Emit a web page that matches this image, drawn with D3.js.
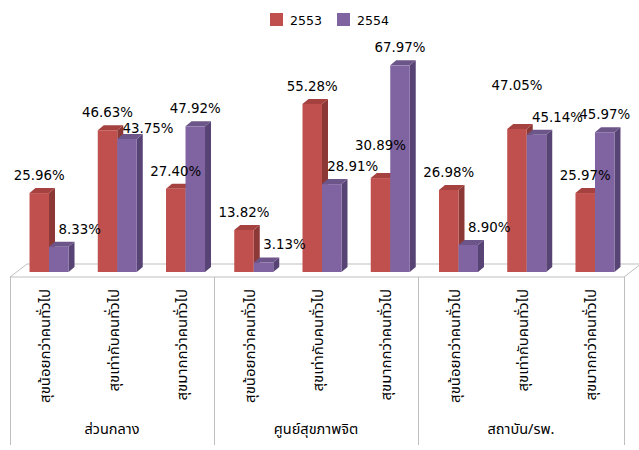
<!DOCTYPE html>
<html>
<head>
<meta charset="utf-8">
<script src="https://cdn.jsdelivr.net/npm/d3@7"></script>
<style>
  html, body { margin: 0; padding: 0; background: #fff; }
  svg { display: block; }
  text { font-family: "DejaVu Sans", Verdana, sans-serif; fill: #000; }
  .thai { font-family: Tahoma, "Noto Sans Thai", "Leelawadee UI", sans-serif; }
</style>
</head>
<body>
<svg id="chart" width="639" height="450"></svg>
<script>
// Survey results (%) by unit type and happiness level, 2553 vs 2554
const groups = ["ส่วนกลาง", "ศูนย์สุขภาพจิต", "สถาบัน/รพ."];
const levels = ["สุขน้อยกว่าคนทั่วไป", "สุขเท่ากับคนทั่วไป", "สุขมากกว่าคนทั่วไป"];
const seriesNames = ["2553", "2554"];
const values2553 = [25.96, 46.63, 27.40, 13.82, 55.28, 30.89, 26.98, 47.05, 25.97];
const values2554 = [8.33, 43.75, 47.92, 3.13, 28.91, 67.97, 8.90, 45.14, 45.97];

const W = 639, H = 450;
const svg = d3.select("#chart");

// pick a font size so that a sample string renders at the wanted width
function fitSize(sample, cls, wanted) {
  const t = svg.append("text").attr("font-size", 20).text(sample);
  if (cls) t.attr("class", cls);
  const w = t.node().getComputedTextLength();
  t.remove();
  return w > 0 ? 20 * wanted / w : 14;
}
const valueSize = fitSize("25.96%", null, 51);
const legendSize = fitSize("2553", null, 32);
const levelSize = fitSize(levels[0], "thai", 114);
const groupSize = fitSize(groups[0], "thai", 55);

// colours: front, side, top faces
const palette = {
  "2553": { front: "#C0504D", side: "#8C3836", top: "#A5423F" },
  "2554": { front: "#8064A2", side: "#574474", top: "#6C5589" }
};

const base = 272;          // front baseline of the columns
const depthX = 6, depthY = 5;

// one key per (group, level) slot
const slots = [];
groups.forEach((g, gi) => levels.forEach((l, li) => slots.push({ key: gi + "|" + li, group: g, level: l, gi, li })));

const x0 = d3.scaleBand().domain(slots.map(d => d.key)).range([14.9, 629.1]).paddingInner(0).paddingOuter(0);
const x1 = d3.scaleBand().domain(seriesNames).range([0, x0.bandwidth()]).paddingInner(0).paddingOuter(0.75);
const y = d3.scaleLinear().domain([0, 70]).range([base, base - 70 * 3.04]);

// ---- floor and category box ----
const floorFront = 277, floorBack = 264;
const floorL = 10, floorR = 624, floorShift = 17;
const grid = "#BFBFBF";
svg.append("path")
  .attr("d", `M${floorL},${floorFront} L${floorL + floorShift},${floorBack} L${floorR + floorShift},${floorBack} L${floorR},${floorFront} Z`)
  .attr("fill", "#fff").attr("stroke", grid).attr("stroke-width", 1);

// vertical separators of the category box
const groupEdges = [floorL, 214, 418, floorR];
svg.selectAll("line.sep").data(groupEdges).join("line")
  .attr("class", "sep")
  .attr("x1", d => d + 0.5).attr("x2", d => d + 0.5)
  .attr("y1", floorFront).attr("y2", 445)
  .attr("stroke", grid).attr("stroke-width", 1);

// ---- columns ----
const bars = [];
slots.forEach((s, i) => {
  bars.push({ slot: s, series: "2553", value: values2553[i], other: values2554[i] });
  bars.push({ slot: s, series: "2554", value: values2554[i], other: values2553[i] });
});

const gBars = svg.append("g");
bars.forEach(b => {
  const bx = x0(b.slot.key) + x1(b.series);
  const bw = x1.bandwidth();
  const top = y(b.value);
  const c = palette[b.series];
  const g = gBars.append("g");
  // side face
  g.append("path")
    .attr("d", `M${bx + bw},${top} L${bx + bw + depthX},${top - depthY} L${bx + bw + depthX},${base - depthY} L${bx + bw},${base} Z`)
    .attr("fill", c.side);
  // top face
  g.append("path")
    .attr("d", `M${bx},${top} L${bx + depthX},${top - depthY} L${bx + bw + depthX},${top - depthY} L${bx + bw},${top} Z`)
    .attr("fill", c.top);
  // front face
  g.append("rect")
    .attr("x", bx).attr("y", top).attr("width", bw).attr("height", base - top)
    .attr("fill", c.front);
});

// ---- value labels ----
// labels sit above their column; a 2554 label beside a taller 2553 column moves right
const labelNudge = { "2554|0|1": 7, "2553|1|2": -15, "2553|2|1": -26 };
bars.forEach(b => {
  const bx = x0(b.slot.key) + x1(b.series) + x1.bandwidth() / 2;
  let dx = 0;
  if (b.series === "2554" && b.other > b.value) dx = 21;
  const dy = labelNudge[b.series + "|" + b.slot.key] || 0;
  svg.append("text")
    .attr("x", bx + dx)
    .attr("y", y(b.value) - 13 + dy)
    .attr("text-anchor", "middle")
    .attr("font-size", valueSize)
    .text(b.value.toFixed(2) + "%");
});

// ---- category labels (rotated) ----
slots.forEach(s => {
  const cx = x0(s.key) + x0.bandwidth() / 2 - 4;
  svg.append("text")
    .attr("class", "thai")
    .attr("transform", `translate(${cx},289) rotate(-90)`)
    .attr("text-anchor", "end")
    .attr("dy", "0.35em")
    .attr("font-size", levelSize)
    .text(s.level);
});

// ---- group labels ----
groups.forEach((g, gi) => {
  const cx = (groupEdges[gi] + groupEdges[gi + 1]) / 2;
  svg.append("text")
    .attr("class", "thai")
    .attr("x", cx).attr("y", 434)
    .attr("text-anchor", "middle")
    .attr("font-size", groupSize)
    .text(g);
});

// ---- legend ----
const legend = svg.append("g");
const legendX = [270, 337];
seriesNames.forEach((n, i) => {
  legend.append("rect")
    .attr("x", legendX[i]).attr("y", 13).attr("width", 13).attr("height", 13)
    .attr("fill", palette[n].front);
  legend.append("text")
    .attr("x", legendX[i] + 20).attr("y", 25)
    .attr("font-size", legendSize)
    .text(n);
});
</script>
</body>
</html>
